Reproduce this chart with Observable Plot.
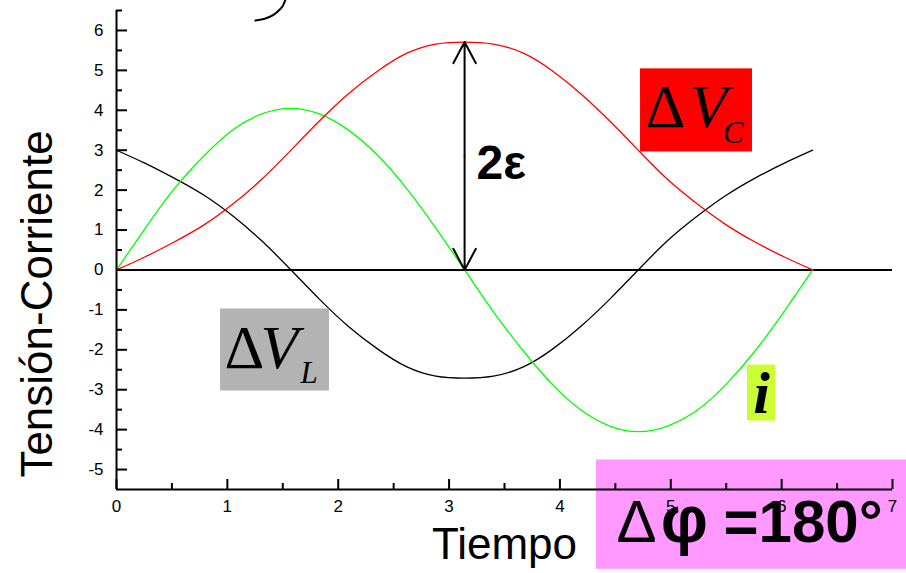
<!DOCTYPE html>
<html>
<head>
<meta charset="utf-8">
<script src="https://cdn.jsdelivr.net/npm/d3@7"></script>
<script src="https://cdn.jsdelivr.net/npm/@observablehq/plot@0.6"></script>
<style>
  html, body { margin: 0; padding: 0; background: #fff; }
  #chart svg { display: block; }
</style>
</head>
<body>
<div id="chart"></div>
<script>
// Tiempo (s) sampled over one period
const time = [0, 0.26, 0.52, 0.79, 1.05, 1.31, 1.57, 1.83, 2.09, 2.36, 2.62, 2.88, 3.14,
              3.40, 3.67, 3.93, 4.19, 4.45, 4.71, 4.97, 5.24, 5.50, 5.76, 6.02, 6.28];
// ΔV_C (red)
const vC = [0, 0.33, 0.70, 1.13, 1.65, 2.27, 2.99, 3.73, 4.41, 4.99, 5.43, 5.66, 5.71,
            5.66, 5.43, 4.99, 4.41, 3.73, 2.99, 2.27, 1.65, 1.13, 0.70, 0.33, 0];
// ΔV_L (black)
const vL = [3.00, 2.67, 2.30, 1.87, 1.35, 0.73, 0.01, -0.73, -1.41, -1.99, -2.43, -2.66, -2.71,
            -2.66, -2.43, -1.99, -1.41, -0.73, 0.01, 0.73, 1.35, 1.87, 2.30, 2.67, 3.00];
// i (green)
const current = [0, 1.05, 2.03, 2.86, 3.51, 3.91, 4.05, 3.91, 3.51, 2.86, 2.03, 1.05, 0,
                 -1.05, -2.03, -2.86, -3.51, -3.91, -4.05, -3.91, -3.51, -2.86, -2.03, -1.05, 0];
// axis ticks
const xTicks = [0, 1, 2, 3, 4, 5, 6, 7];
const xMinor = [0.5, 1.5, 2.5, 3.5, 4.5, 5.5, 6.5];
const yTicks = [-5, -4, -3, -2, -1, 0, 1, 2, 3, 4, 5, 6];
const yMinor = [-4.5, -3.5, -2.5, -1.5, -0.5, 0.5, 1.5, 2.5, 3.5, 4.5, 5.5, 6.5];
// stray stroke at the top edge
const arcX = [1.253, 1.344, 1.416, 1.470, 1.497, 1.524];
const arcY = [6.248, 6.30, 6.39, 6.52, 6.60, 6.77];

const rows = time.map((t, i) => ({t, vC: vC[i], vL: vL[i], i: current[i]}));
const arc = arcX.map((x, k) => ({x, y: arcY[k]}));
const peakIndex = vC.indexOf(d3.max(vC));
const peak = {t: time[peakIndex], top: vC[peakIndex], mid: vC[peakIndex] / 2};

const sans = "'Liberation Sans', Arial, sans-serif";
const serif = "'Liberation Serif', 'Times New Roman', serif";
const xMin = 0, yMin = -5.5;

const chart = Plot.plot({
  width: 906,
  height: 573,
  marginLeft: 116,
  marginRight: 14,
  marginTop: 10,
  marginBottom: 84,
  x: {domain: [0, 7], axis: null},
  y: {domain: [-5.5, 6.5], axis: null},
  style: {fontFamily: sans, background: "#fff", overflow: "visible"},
  marks: [
    // Δφ box
    Plot.rect([0], {x1: 4.33, x2: 7.13, y1: -4.76, y2: -7.50, fill: "#ff99ff"}),

    // zero line
    Plot.ruleY([0], {x1: 0, x2: 7, stroke: "#000", strokeWidth: 2}),

    // curves
    Plot.line(rows, {x: "t", y: "vL", stroke: "#000", strokeWidth: 1.3, curve: "natural"}),
    Plot.line(rows, {x: "t", y: "i", stroke: "#00ff00", strokeWidth: 1.3, curve: "natural"}),
    Plot.line(rows, {x: "t", y: "vC", stroke: "#ff0000", strokeWidth: 1.3, curve: "natural"}),
    Plot.line(arc, {x: "x", y: "y", stroke: "#000", strokeWidth: 2, curve: "catmull-rom"}),

    // 2ε double arrow
    Plot.arrow([peak], {x1: "t", x2: "t", y1: "mid", y2: "top", stroke: "#000", strokeWidth: 2, headLength: 18, headAngle: 56}),
    Plot.arrow([peak], {x1: "t", x2: "t", y1: "mid", y2: () => 0, stroke: "#000", strokeWidth: 2, headLength: 18, headAngle: 56}),
    Plot.text([peak], {x: "t", y: "mid", text: () => "2ε", dx: 12, dy: 8, textAnchor: "start",
      fontSize: 48, fontWeight: "bold", fill: "#000"}),

    // ΔV_C label
    Plot.rect([0], {x1: 4.727, x2: 5.737, y1: 5.038, y2: 2.957, fill: "#ff0000"}),
    Plot.text([0], {x: 4.772, y: 3.584, text: () => "Δ", textAnchor: "start", lineAnchor: "bottom",
      fontFamily: serif, fontSize: 62, fill: "#000"}),
    Plot.text([0], {x: 5.17, y: 3.584, text: () => "V", textAnchor: "start", lineAnchor: "bottom",
      fontFamily: serif, fontStyle: "italic", fontSize: 62, fill: "#000"}),
    Plot.text([0], {x: 5.47, y: 3.183, text: () => "C", textAnchor: "start", lineAnchor: "bottom",
      fontFamily: serif, fontStyle: "italic", fontSize: 31, fill: "#000"}),

    // ΔV_L label
    Plot.rect([0], {x1: 0.938, x2: 1.921, y1: -0.977, y2: -3.033, fill: "#b3b3b3"}),
    Plot.text([0], {x: 0.974, y: -2.456, text: () => "Δ", textAnchor: "start", lineAnchor: "bottom",
      fontFamily: serif, fontSize: 62, fill: "#000"}),
    Plot.text([0], {x: 1.30, y: -2.456, text: () => "V", textAnchor: "start", lineAnchor: "bottom",
      fontFamily: serif, fontStyle: "italic", fontSize: 62, fill: "#000"}),
    Plot.text([0], {x: 1.66, y: -2.832, text: () => "L", textAnchor: "start", lineAnchor: "bottom",
      fontFamily: serif, fontStyle: "italic", fontSize: 31, fill: "#000"}),

    // i label
    Plot.rect([0], {x1: 5.692, x2: 5.945, y1: -2.381, y2: -3.784, fill: "#ccff33"}),
    Plot.text([0], {x: 5.818, y: -3.584, text: () => "i", textAnchor: "middle", lineAnchor: "bottom",
      fontFamily: serif, fontStyle: "italic", fontWeight: "bold", fontSize: 60, fill: "#000"}),

    // axes
    Plot.ruleX([xMin], {y1: -5.5, y2: 6.5, stroke: "#000", strokeWidth: 2}),
    Plot.ruleY([yMin], {x1: 0, x2: 7, stroke: "#000", strokeWidth: 2}),
    Plot.ruleY(yTicks, {y: d => d, x1: xMin, x2: xMin, insetRight: -11, stroke: "#000", strokeWidth: 2}),
    Plot.ruleY(yMinor, {y: d => d, x1: xMin, x2: xMin, insetRight: -6, stroke: "#000", strokeWidth: 2}),
    Plot.ruleX(xTicks, {x: d => d, y1: yMin, y2: yMin, insetTop: -10, stroke: "#000", strokeWidth: 2}),
    Plot.ruleX(xMinor, {x: d => d, y1: yMin, y2: yMin, insetTop: -6, stroke: "#000", strokeWidth: 2}),
    Plot.text(yTicks, {x: xMin, y: d => d, text: d => String(d), textAnchor: "end", dx: -13,
      fontSize: 17, fill: "#000"}),
    Plot.text(xTicks, {x: d => d, y: yMin, text: d => String(d), lineAnchor: "top", dy: 10,
      fontSize: 17, fill: "#000"}),

    // axis titles
    Plot.text(["Tiempo"], {frameAnchor: "bottom", text: d => d, dy: 69, fontSize: 44, fill: "#000"}),
    Plot.text(["Tensión-Corriente"], {x: -0.713, y: -0.852, text: d => d, rotate: -90,
      fontSize: 44, fill: "#000"}),

    // Δφ = 180°
    Plot.text([0], {x: 4.51, y: -6.82, text: () => "Δ", textAnchor: "start", lineAnchor: "bottom",
      fontSize: 60, fill: "#000"}),
    Plot.text([0], {x: 4.91, y: -6.82, text: () => "φ", textAnchor: "start", lineAnchor: "bottom",
      fontSize: 66, fontWeight: "bold", fill: "#000"}),
    Plot.text([0], {x: 5.476, y: -6.82, text: () => "=180°", textAnchor: "start", lineAnchor: "bottom",
      fontSize: 60, fontWeight: "bold", fill: "#000"})
  ]
});

document.getElementById("chart").append(chart);
</script>
</body>
</html>
